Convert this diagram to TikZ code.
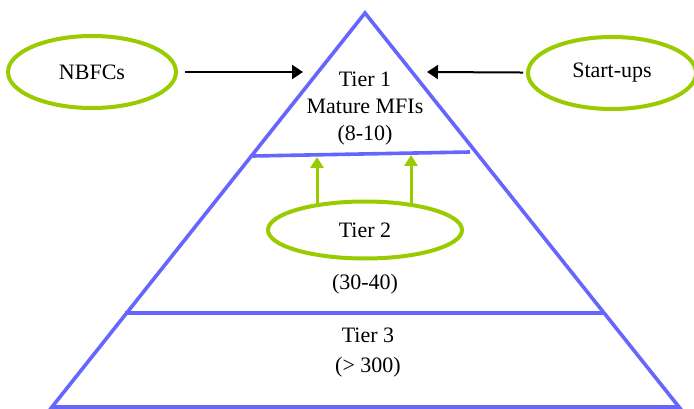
\documentclass[tikz,border=0pt]{standalone}
\usepackage{fontspec}
\setmainfont{Liberation Serif}
\usetikzlibrary{positioning,arrows.meta,shapes.geometric}
\definecolor{tierblue}{RGB}{102,102,255}
\definecolor{tiergreen}{RGB}{153,204,0}

\begin{document}
\begin{tikzpicture}[x=1pt, y=-1pt,
  lbl/.style={font=\fontsize{22}{27}\selectfont, align=center, inner sep=0pt},
  src/.style={draw=tiergreen, ellipse, line width=4pt, minimum width=168pt,
              minimum height=72pt, inner sep=0pt, font=\fontsize{22}{27}\selectfont},
  lvl/.style={draw=tierblue, line width=3.6pt},
  arr/.style={-{Triangle[length=11pt,width=14pt]}, line width=2pt},
  up/.style={-{Triangle[length=11pt,width=13pt]}, draw=tiergreen, fill=tiergreen, line width=3pt}]
\useasboundingbox (0,0) rectangle (694,409);
% pyramid and tier borders
\coordinate (apex) at (365,13);
\coordinate (bl) at (52,407);
\coordinate (br) at (679,407);
\draw[lvl] (apex) -- (bl) -- (br) -- cycle;
\coordinate (t1l) at (253,156); \coordinate (t1r) at (470,152);
\draw[lvl] (t1l) -- (t1r);
\coordinate (t3l) at (125,313); \coordinate (t3r) at (604,313);
\draw[lvl] (t3l) -- (t3r);
% tier labels
\node[lbl] (tier1) at (365,109) {Tier 1\\Mature MFIs\\(8-10)};
\node[src, minimum width=194pt, minimum height=57pt] (tier2) at (365,230) {Tier 2};
\node[lbl] (cnt2) at (365,284) {(30-40)};
\node[lbl] (tier3) at (368,353) {Tier 3\\[3pt](> 300)};
% entrants
\node[src] (nbfc) at (92,72) {NBFCs};
\node[src] (startup) at (612,73) {Start-ups};
\coordinate (nend) at (303,72);
\coordinate (send) at (427,72);
\draw[arr, shorten <=7pt] (nbfc) -- (nend);
\draw[arr, shorten <=3pt] (startup) -- (send);
% tier 2 moving up
\coordinate (up1) at (317,157);
\coordinate (up2) at (411,155);
\draw[up] (tier2.153 -| up1) -- (up1);
\draw[up] (tier2.27 -| up2) -- (up2);
\end{tikzpicture}
\end{document}
